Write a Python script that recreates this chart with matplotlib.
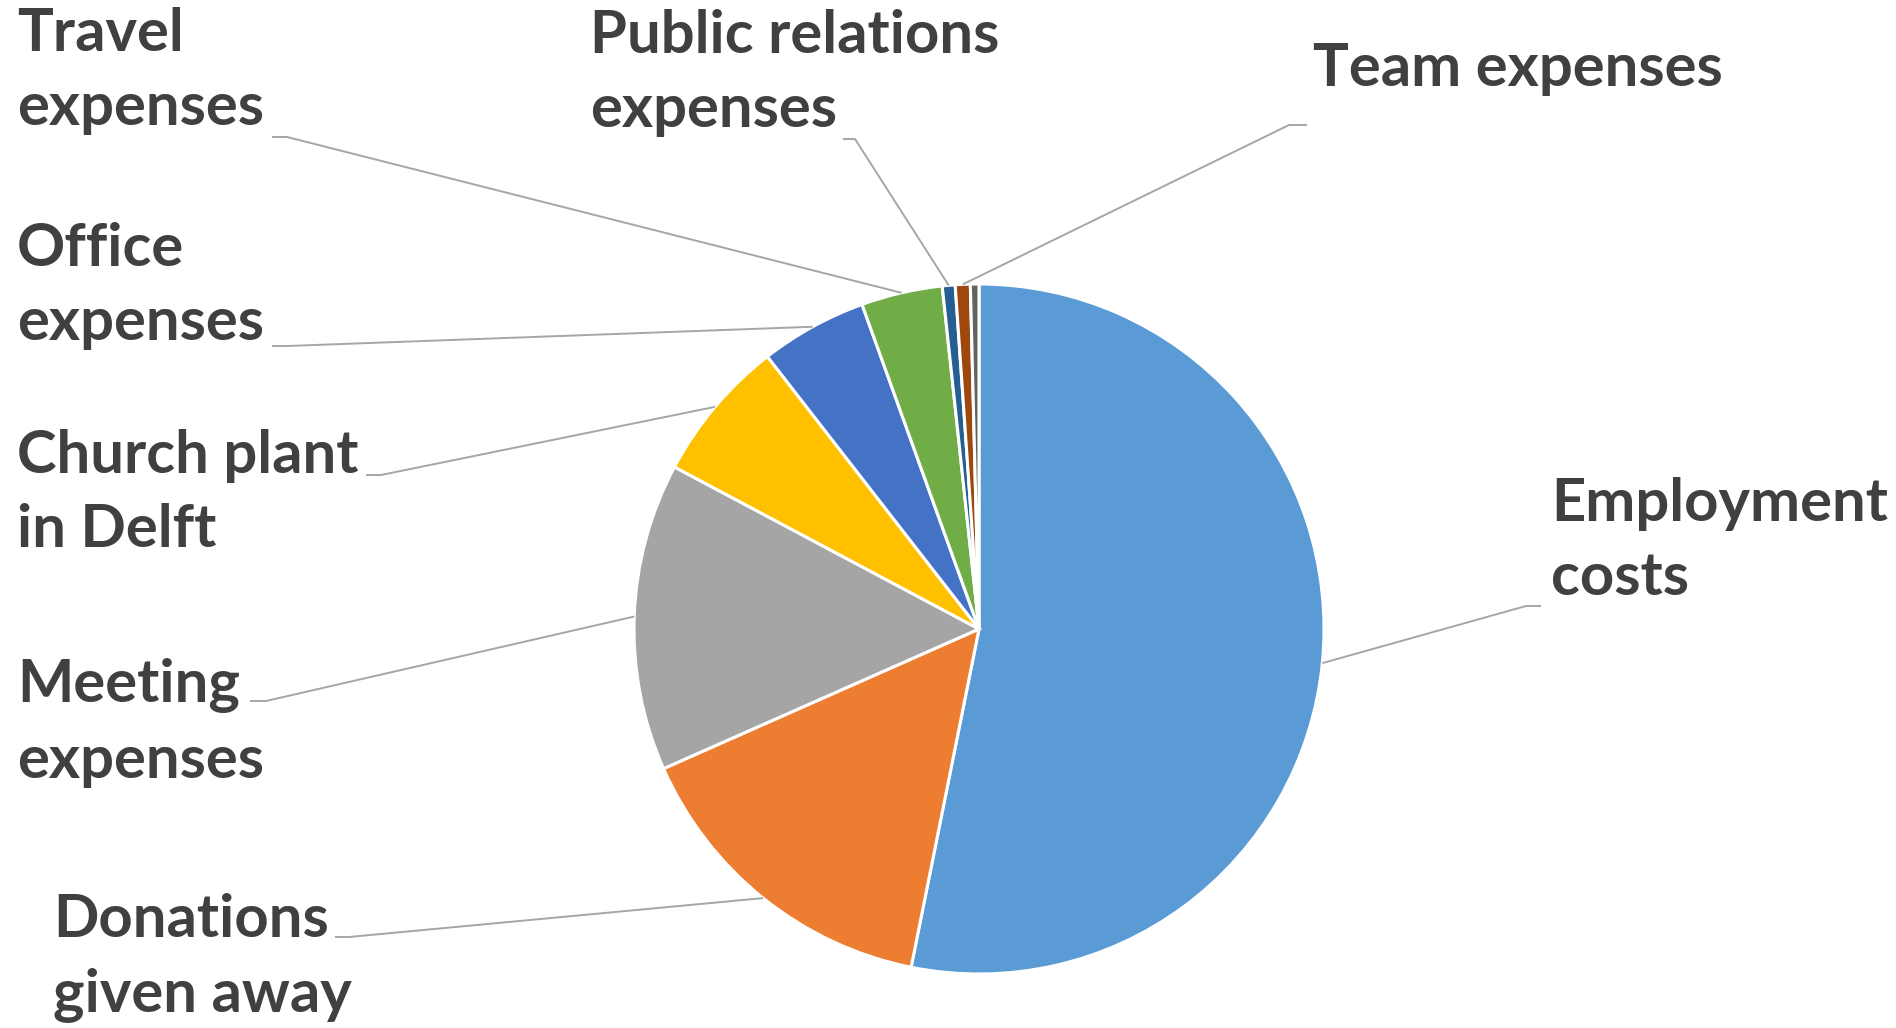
import numpy as np
import matplotlib.pyplot as plt

# --- data (shares) ---
labels = ['Employment\ncosts', 'Donations\ngiven away', 'Meeting\nexpenses',
          'Church plant\nin Delft', 'Office\nexpenses', 'Travel\nexpenses',
          'Public relations\nexpenses', 'Team expenses', '']
shares = [53.1, 15.2, 14.4, 6.7, 5.0, 3.8, 0.6, 0.7, 0.4]
colors = ['#5B9BD5', '#ED7D31', '#A5A5A5', '#FFC000', '#4472C4',
          '#70AD47', '#255E91', '#9E480E', '#636363']

W, H = 1896, 1028
CX, CY, R = 979, 629, 345


def px(x, y):
    # pixel position -> data coords (pie radius = 1)
    return (x - CX) / R, (CY - y) / R


fig = plt.figure(figsize=(W / 100, H / 100), dpi=100)
ax = fig.add_axes([0, 0, 1, 1])

wedges, _ = ax.pie(shares, colors=colors, startangle=90, counterclock=False,
                   radius=1, center=(0, 0), frame=True,
                   wedgeprops=dict(edgecolor='white', linewidth=2.2))
ax.set_xlim(px(0, 0)[0], px(W, 0)[0])
ax.set_ylim(px(0, H)[1], px(0, 0)[1])
ax.axis('off')

# label text anchor (px), leader elbow points (px)
layout = [
    ((1551, 541), (1541, 606), (1526, 606)),
    ((53, 958), (335, 937), (349, 937)),
    ((17, 723), (250, 701), (266, 701)),
    ((17, 493), (366, 475), (381, 475)),
    ((17, 286), (272, 346), (287, 346)),
    ((17, 71), (272, 137), (287, 137)),
    ((590, 73), (843, 139), (855, 139)),
    ((1313, 69), (1307, 125), (1289, 125)),
]

for i, (txt_pos, stub0, stub1) in enumerate(layout):
    w = wedges[i]
    mid = np.deg2rad((w.theta1 + w.theta2) / 2)
    tip = (np.cos(mid), np.sin(mid))
    a = px(*stub0)
    b = px(*stub1)
    ax.plot([a[0], b[0], tip[0]], [a[1], b[1], tip[1]],
            color='#A6A6A6', lw=1.4, solid_capstyle='butt', zorder=1)
    tx, ty = px(*txt_pos)
    ax.text(tx, ty, labels[i], ha='left', va='center', fontsize=43,
            family='Lato', fontweight='bold', color='#404040',
            linespacing=1.46)

fig.savefig('out.png', dpi=100)
